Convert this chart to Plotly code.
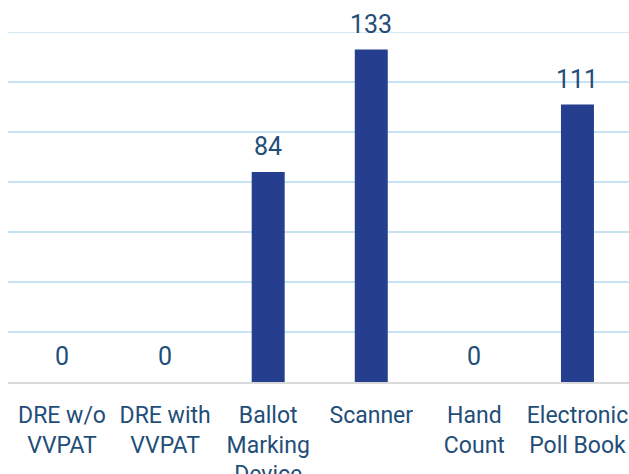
import plotly.graph_objects as go

categories = ["DRE w/o<br>VVPAT", "DRE with<br>VVPAT", "Ballot<br>Marking<br>Device",
              "Scanner", "Hand<br>Count", "Electronic<br>Poll Book"]
values = [0, 0, 84, 133, 0, 111]
labels = [str(v) for v in values]
y_max = 140

TEXT = "#1f4e79"
FONT = "Roboto"
GRID = "#c6e2f3"

fig = go.Figure()
fig.add_trace(go.Bar(
    x=list(range(len(categories))), y=values,
    marker=dict(color="#253f8e", line=dict(width=0)),
    width=0.32,
))

for i, (v, t) in enumerate(zip(values, labels)):
    fig.add_annotation(x=i, y=v, text=t, showarrow=False, yanchor="bottom",
                       yshift=9, font=dict(family=FONT, size=25, color=TEXT))

# top gridline (at the range edge)
fig.add_shape(type="line", xref="paper", x0=0, x1=1, yref="y", y0=y_max, y1=y_max,
              line=dict(color=GRID, width=1.5), layer="below")

fig.update_layout(
    width=629, height=474,
    margin=dict(l=8, r=0, t=32, b=92),
    paper_bgcolor="white", plot_bgcolor="white",
    showlegend=False,
    font=dict(family=FONT, size=23, color=TEXT),
    xaxis=dict(
        tickmode="array", tickvals=list(range(len(categories))), ticktext=categories,
        range=[-0.524, 5.5], showgrid=False, zeroline=False, automargin=False,
        showline=True, linecolor="#d9d9d9", linewidth=2,
        ticks="outside", ticklen=11, tickcolor="rgba(0,0,0,0)",
        tickangle=0, tickfont=dict(family=FONT, size=23, color=TEXT),
    ),
    yaxis=dict(
        range=[0, y_max], dtick=20, showgrid=True, gridcolor=GRID, gridwidth=1.5,
        zeroline=False, showticklabels=False, showline=False, automargin=False,
    ),
)

fig.write_html("out.html", config={"displayModeBar": False},
               post_script="document.body.style.margin='0';document.body.style.overflow='hidden';")
